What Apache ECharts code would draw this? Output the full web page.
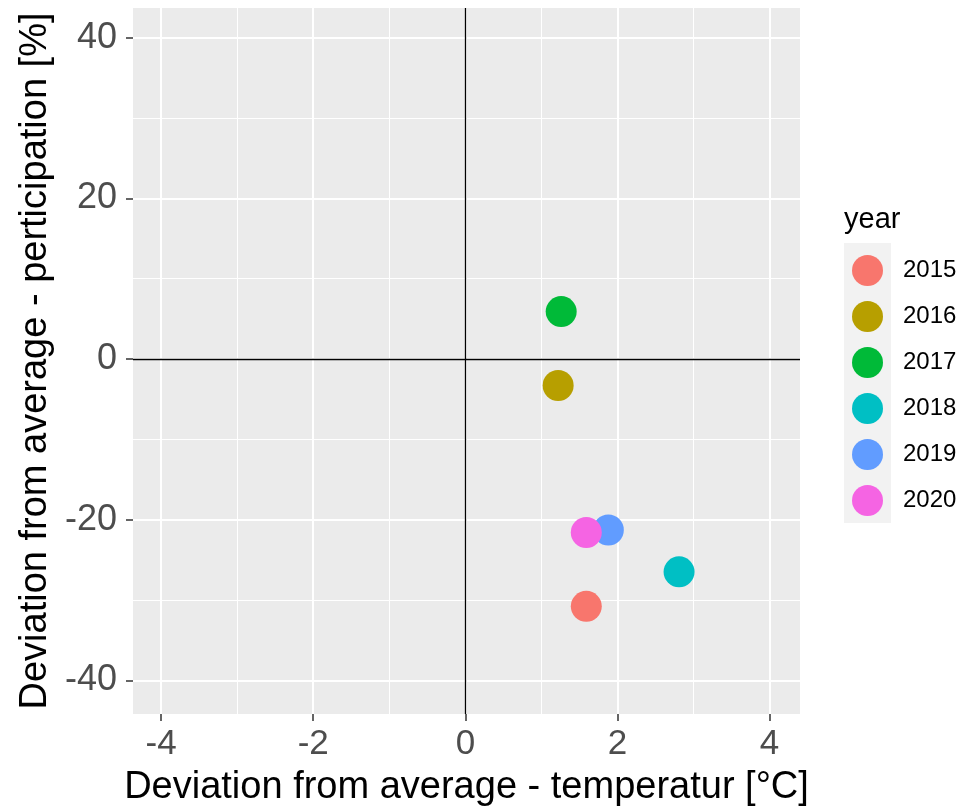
<!DOCTYPE html>
<html>
<head>
<meta charset="utf-8">
<script src="https://cdn.jsdelivr.net/npm/echarts@6/dist/echarts.min.js"></script>
<style>
  html, body { margin: 0; padding: 0; background: #fff; }
  #main { width: 976px; height: 812px; }
</style>
</head>
<body>
<div id="main"></div>
<script>
  // values
  const years = ['2015', '2016', '2017', '2018', '2019', '2020']
  const tempDev = [1.59, 1.22, 1.26, 2.81, 1.88, 1.59]
  const precipDev = [-30.8, -3.3, 5.9, -26.5, -21.3, -21.6]
  const colors = ['#F8766D', '#B79F00', '#00BA38', '#00BFC4', '#619CFF', '#F564E3']

  const xMajor = [-4, -2, 0, 2, 4]
  const xMinor = [-3, -1, 1, 3]
  const yMajor = [-40, -20, 0, 20, 40]
  const yMinor = [-30, -10, 10, 30]

  const font = 'Liberation Sans, Arial, sans-serif'
  const chart = echarts.init(document.getElementById('main'))

  const axisBase = (min, max) => ({
    type: 'value',
    min: min,
    max: max,
    gridIndex: 0
  })

  const series = years.map((y, i) => ({
    name: y,
    type: 'scatter',
    xAxisIndex: 0,
    yAxisIndex: 0,
    symbolSize: 31,
    itemStyle: { color: colors[i], opacity: 1 },
    data: [[tempDev[i], precipDev[i]]],
    z: 5
  }))
  // zero reference lines
  series.push({
    type: 'scatter',
    data: [],
    silent: true,
    markLine: {
      silent: true,
      symbol: 'none',
      label: { show: false },
      lineStyle: { color: '#000', width: 1.3, type: 'solid' },
      data: [{ xAxis: 0 }, { yAxis: 0 }]
    },
    z: 3
  })

  chart.setOption({
    backgroundColor: '#fff',
    animation: false,
    grid: { left: 133, top: 8, width: 667, height: 707, backgroundColor: '#EBEBEB', show: true, borderWidth: 0 },
    xAxis: [
      Object.assign(axisBase(-4.37, 4.40), {
        position: 'bottom',
        name: 'Deviation from average - temperatur [°C]',
        nameLocation: 'middle',
        nameGap: 55,
        nameTextStyle: { fontFamily: font, fontSize: 38, color: '#000' },
        axisLine: { show: false, onZero: false },
        axisTick: { show: true, length: 7, customValues: xMajor, lineStyle: { color: '#333', width: 1.5 } },
        axisLabel: { customValues: xMajor, fontFamily: font, fontSize: 35, color: '#4D4D4D', margin: 13 },
        splitLine: { show: true, lineStyle: { color: '#fff', width: 2 } }
      }),
      Object.assign(axisBase(-4.37, 4.40), {
        position: 'bottom',
        axisLine: { show: false, onZero: false },
        axisTick: { show: false, customValues: xMinor },
        axisLabel: { show: false },
        splitLine: { show: true, lineStyle: { color: '#fff', width: 1 } }
      })
    ],
    yAxis: [
      Object.assign(axisBase(-44.2, 43.7), {
        position: 'left',
        name: 'Deviation from average - perticipation [%]',
        nameLocation: 'middle',
        nameGap: 73,
        nameRotate: 90,
        nameTextStyle: { fontFamily: font, fontSize: 38, color: '#000' },
        axisLine: { show: false, onZero: false },
        axisTick: { show: true, length: 7, customValues: yMajor, lineStyle: { color: '#333', width: 1.5 } },
        axisLabel: { customValues: yMajor, fontFamily: font, fontSize: 36, color: '#4D4D4D', margin: 16 },
        splitLine: { show: true, lineStyle: { color: '#fff', width: 2 } }
      }),
      Object.assign(axisBase(-44.2, 43.7), {
        position: 'left',
        axisLine: { show: false, onZero: false },
        axisTick: { show: false, customValues: yMinor },
        axisLabel: { show: false },
        splitLine: { show: true, lineStyle: { color: '#fff', width: 1 } }
      })
    ],
    legend: {
      orient: 'vertical',
      left: 847,
      top: 250,
      icon: 'circle',
      itemWidth: 31,
      itemHeight: 31,
      itemGap: 15,
      data: years,
      textStyle: { fontFamily: font, fontSize: 24, color: '#000', padding: [0, 0, 0, 15] }
    },
    graphic: [
      { type: 'rect', left: 844, top: 243, shape: { width: 47, height: 280 }, style: { fill: '#F2F2F2' }, z: -1 },
      { type: 'text', left: 844, top: 205, style: { text: 'year', fontFamily: font, fontSize: 29, fill: '#000' } }
    ],
    series: series
  })
</script>
</body>
</html>
